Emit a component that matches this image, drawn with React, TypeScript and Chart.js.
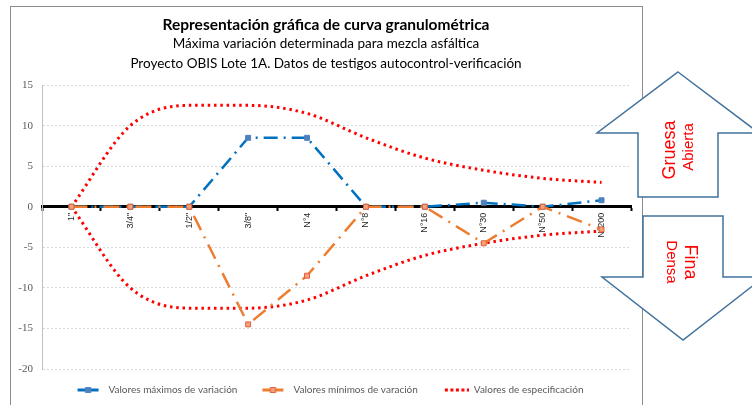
import { useEffect, useRef } from 'react';
import { Chart, registerables } from 'chart.js';

Chart.register(...registerables);

const categories = ['1"', '3/4"', '1/2"', '3/8"', 'N°4', 'N°8', 'N°16', 'N°30', 'N°50', 'N°200'];
const maxVariation = [0, 0, 0, 8.5, 8.5, 0, 0, 0.5, 0, 0.8];
const minVariation = [0, 0, 0, -14.5, -8.5, 0, 0, -4.5, 0, -2.8];
const specUpper = [0, 10, 12.5, 12.5, 11.5, 8.5, 6, 4.5, 3.5, 3];
const specLower = [0, -10, -12.5, -12.5, -11.5, -8.5, -6, -4.5, -3.5, -3];
const yMin = -20;
const yMax = 15;
const yStep = 5;
const seriesNames = ['Valores máximos de variación', 'Valores mínimos de varación', 'Valores de especificación'];
const titleText = 'Representación gráfica de curva granulométrica';
const subtitleLines = [
  'Máxima variación determinada para mezcla asfáltica',
  'Proyecto OBIS Lote 1A. Datos de testigos autocontrol-verificación',
];
const upArrowLabels = ['Gruesa', 'Abierta'];
const downArrowLabels = ['Fina', 'Densa'];

const BLUE = '#0070c0';
const BLUE_MARK = '#4f81bd';
const ORANGE = '#ed7d31';
const ORANGE_MARK_FILL = '#f4a27a';
const ORANGE_MARK_BORDER = '#e0603a';
const RED = '#ff0000';
const SANS = 'Lato, "Liberation Sans", sans-serif';

function makeLegendIcon(kind: 'blue' | 'orange' | 'red'): HTMLCanvasElement {
  const c = document.createElement('canvas');
  c.width = 35;
  c.height = 10;
  const g = c.getContext('2d')!;
  if (kind === 'red') {
    g.fillStyle = RED;
    for (let i = 0; i < 5; i++) g.fillRect(11 + i * 5.5, 3.5, 3, 3);
  } else {
    g.strokeStyle = kind === 'blue' ? BLUE : ORANGE;
    g.lineWidth = 3;
    g.beginPath();
    g.moveTo(9, 5);
    g.lineTo(30, 5);
    g.stroke();
    g.fillStyle = kind === 'blue' ? BLUE_MARK : ORANGE_MARK_FILL;
    g.strokeStyle = kind === 'blue' ? BLUE_MARK : ORANGE_MARK_BORDER;
    g.lineWidth = 1;
    g.fillRect(17, 2.5, 5, 5);
    g.strokeRect(17, 2.5, 5, 5);
  }
  return c;
}

const decorPlugin = {
  id: 'decor',
  beforeDraw(chart: any) {
    const ctx = chart.ctx as CanvasRenderingContext2D;
    ctx.save();
    ctx.fillStyle = '#ffffff';
    ctx.fillRect(0, 0, chart.width, chart.height);
    ctx.strokeStyle = '#8c8c8c';
    ctx.lineWidth = 1;
    ctx.strokeRect(10.5, 6.5, 632, 430);
    ctx.restore();
  },
  afterDraw(chart: any) {
    const ctx = chart.ctx as CanvasRenderingContext2D;
    ctx.save();
    ctx.lineWidth = 1.5;
    ctx.strokeStyle = '#41719c';
    ctx.fillStyle = '#ffffff';
    // up arrow
    ctx.beginPath();
    ctx.moveTo(678, 72);
    ctx.lineTo(759, 133);
    ctx.lineTo(718, 133);
    ctx.lineTo(718, 197);
    ctx.lineTo(638, 197);
    ctx.lineTo(638, 133);
    ctx.lineTo(597, 133);
    ctx.closePath();
    ctx.fill();
    ctx.stroke();
    // down arrow
    ctx.beginPath();
    ctx.moveTo(643, 216);
    ctx.lineTo(723, 216);
    ctx.lineTo(723, 277);
    ctx.lineTo(764, 277);
    ctx.lineTo(683, 340);
    ctx.lineTo(602, 277);
    ctx.lineTo(643, 277);
    ctx.closePath();
    ctx.fill();
    ctx.stroke();

    ctx.fillStyle = RED;
    ctx.textAlign = 'center';
    ctx.textBaseline = 'middle';
    const drawRot = (txt: string, x: number, y: number, ang: number, font: string) => {
      ctx.save();
      ctx.translate(x, y);
      ctx.rotate(ang);
      ctx.font = font;
      ctx.fillText(txt, 0, 0);
      ctx.restore();
    };
    drawRot(upArrowLabels[0], 670, 150, -Math.PI / 2, '18px "Liberation Sans", Arial, sans-serif');
    drawRot(upArrowLabels[1], 689, 147, -Math.PI / 2, '15px "Liberation Sans", Arial, sans-serif');
    drawRot(downArrowLabels[0], 690, 262, Math.PI / 2, '18px "Liberation Sans", Arial, sans-serif');
    drawRot(downArrowLabels[1], 671, 262, Math.PI / 2, '15px "Liberation Sans", Arial, sans-serif');
    ctx.restore();
  },
};

export default function App() {
  const ref = useRef<HTMLCanvasElement | null>(null);

  useEffect(() => {
    if (!ref.current) return;
    const icons = [makeLegendIcon('blue'), makeLegendIcon('orange'), makeLegendIcon('red')];
    const chart = new Chart(ref.current, {
      type: 'line',
      data: {
        labels: categories,
        datasets: [
          {
            label: seriesNames[0],
            data: maxVariation,
            borderColor: BLUE,
            backgroundColor: BLUE_MARK,
            borderWidth: 2.5,
            borderDash: [14, 6, 2, 6],
            pointStyle: 'rect',
            pointRadius: 3.5,
            pointBackgroundColor: BLUE_MARK,
            pointBorderColor: BLUE_MARK,
            pointBorderWidth: 1,
            tension: 0,
            order: 2,
          },
          {
            label: seriesNames[1],
            data: minVariation,
            borderColor: ORANGE,
            backgroundColor: ORANGE_MARK_FILL,
            borderWidth: 2.5,
            borderDash: [16, 7, 2, 7],
            pointStyle: 'rect',
            pointRadius: 3.5,
            pointBackgroundColor: ORANGE_MARK_FILL,
            pointBorderColor: ORANGE_MARK_BORDER,
            pointBorderWidth: 1,
            tension: 0,
            order: 1,
          },
          {
            label: seriesNames[2],
            data: specUpper,
            borderColor: RED,
            borderWidth: 3,
            borderDash: [2.5, 3.8],
            pointRadius: 0,
            cubicInterpolationMode: 'monotone',
            order: 3,
          },
          {
            label: seriesNames[2] + ' (inferior)',
            data: specLower,
            borderColor: RED,
            borderWidth: 3,
            borderDash: [2.5, 3.8],
            pointRadius: 0,
            cubicInterpolationMode: 'monotone',
            order: 3,
          },
        ],
      },
      options: {
        responsive: false,
        animation: false,
        events: [],
        layout: { padding: { left: 10, right: 110, top: 6, bottom: 0 } },
        scales: {
          x: {
            type: 'category',
            position: { y: 0 } as any,
            offset: true,
            grid: {
              display: true,
              offset: true,
              drawOnChartArea: false,
              drawTicks: true,
              tickLength: 3,
              tickColor: '#000000',
              tickWidth: 2,
            },
            border: { display: true, color: '#000000', width: 3 },
            ticks: {
              minRotation: 90,
              maxRotation: 90,
              autoSkip: false,
              padding: 3,
              color: '#262626',
              font: { family: '"Liberation Sans", Arial, sans-serif', size: 9 },
            },
          },
          y: {
            type: 'linear',
            position: 'left',
            min: yMin,
            max: yMax,
            afterFit: (s: any) => {
              s.width = 32;
            },
            grid: { color: '#d9d9d9', lineWidth: 1, drawTicks: false },
            border: { display: true, color: '#bfbfbf', width: 1, dash: [2, 2] },
            ticks: {
              stepSize: yStep,
              padding: 9,
              color: '#595959',
              font: { family: '"Liberation Serif", "DejaVu Serif", serif', size: 11 },
            },
          },
          yPad: {
            type: 'linear',
            position: 'right',
            display: true,
            afterFit: (s: any) => {
              s.width = 11;
            },
            grid: { display: false },
            border: { display: false },
            ticks: { display: false },
          },
        },
        plugins: {
          title: {
            display: true,
            text: titleText,
            color: '#000000',
            font: { family: SANS, size: 15.5, weight: 'bold', lineHeight: 1.2 },
            padding: { top: 10, bottom: 0 },
          },
          subtitle: {
            display: true,
            text: subtitleLines,
            color: '#000000',
            font: { family: SANS, size: 13.5, lineHeight: 1.41 },
            padding: { top: 0, bottom: 12.4 },
          },
          legend: {
            display: true,
            position: 'bottom',
            labels: {
              usePointStyle: true,
              pointStyleWidth: 35,
              padding: 16,
              color: '#595959',
              font: { family: SANS, size: 10 },
              generateLabels: () =>
                [0, 1, 2].map((i) => ({
                  text: seriesNames[i],
                  pointStyle: icons[i],
                  datasetIndex: i,
                  fontColor: '#595959',
                  fillStyle: 'rgba(0,0,0,0)',
                  strokeStyle: 'rgba(0,0,0,0)',
                  lineWidth: 0,
                  hidden: false,
                })) as any,
            },
          },
          tooltip: { enabled: false },
        },
      },
      plugins: [decorPlugin],
    } as any);
    return () => chart.destroy();
  }, []);

  return (
    <div style={{ position: 'fixed', left: 0, top: 0, width: 752, height: 405, background: '#fff' }}>
      <canvas ref={ref} width={752} height={405} style={{ width: 752, height: 405, display: 'block' }} />
    </div>
  );
}
